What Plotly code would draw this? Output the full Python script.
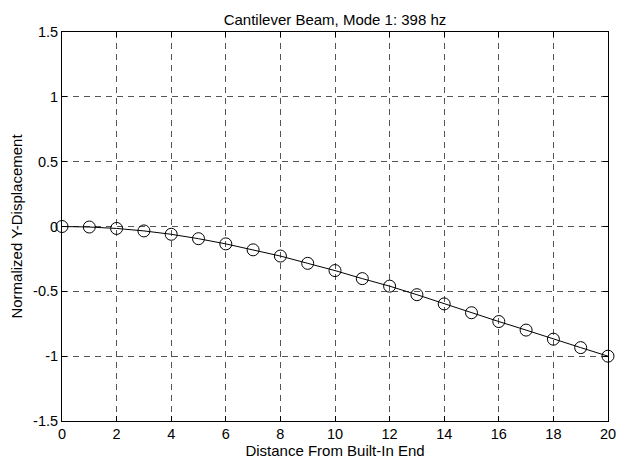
import plotly.graph_objects as go

distance = list(range(0, 21))
displacement = [0.0, -0.004, -0.015, -0.034, -0.060, -0.094, -0.134, -0.180, -0.228,
                -0.284, -0.340, -0.402, -0.460, -0.526, -0.597, -0.665, -0.733,
                -0.799, -0.869, -0.934, -1.0]

x_ticks = [0, 2, 4, 6, 8, 10, 12, 14, 16, 18, 20]
x_ticktext = ["0", "2", "4", "6", "8", "10", "12", "14", "16", "18", "20"]
y_ticks = [1.5, 1, 0.5, 0, -0.5, -1, -1.5]
y_ticktext = ["1.5", "1", "0.5", "0", "-0.5", "-1", "-1.5"]

title_text = "Cantilever Beam, Mode 1: 398 hz"
x_label = "Distance From Built-In End"
y_label = "Normalized Y-Displacement"

FONT = "Liberation Sans, Arial, sans-serif"

fig = go.Figure()
fig.add_trace(go.Scatter(
    x=distance, y=displacement, mode="lines+markers",
    line=dict(color="black", width=1),
    marker=dict(symbol="circle-open", size=12, color="black", line=dict(width=1, color="black")),
    cliponaxis=False, showlegend=False,
))

fig.update_layout(
    width=617, height=464, autosize=False,
    margin=dict(l=62, r=9, t=32, b=43, autoexpand=False),
    paper_bgcolor="white", plot_bgcolor="white",
    font=dict(family=FONT, size=14.5, color="black"),
    title=dict(text=title_text, x=0.5, xanchor="center", xref="paper",
               y=1, yref="paper", yanchor="bottom", pad=dict(b=7),
               font=dict(family=FONT, size=15, color="black")),
)
grid = dict(showgrid=True, gridcolor="#555555", gridwidth=1, griddash="6px,5px")
fig.update_xaxes(
    range=[0, 20], tickvals=x_ticks, ticktext=x_ticktext, automargin=False,
    showline=True, linecolor="black", linewidth=1, mirror="ticks",
    ticks="inside", ticklen=5, tickcolor="black", zeroline=False,
    title=dict(text=x_label, standoff=1, font=dict(size=15)),
    tickfont=dict(size=14.5), **grid,
)
fig.update_yaxes(
    range=[-1.5, 1.5], tickvals=y_ticks, ticktext=y_ticktext, automargin=False,
    showline=True, linecolor="black", linewidth=1, mirror="ticks",
    ticks="inside", ticklen=5, tickcolor="black", zeroline=False,
    title=dict(text=y_label, standoff=6, font=dict(size=15)),
    tickfont=dict(size=14.5), **grid,
)

fig.write_html("out.html",
               config={"displayModeBar": False, "responsive": False},
               post_script="document.body.style.margin='0';document.body.style.overflow='hidden';")
